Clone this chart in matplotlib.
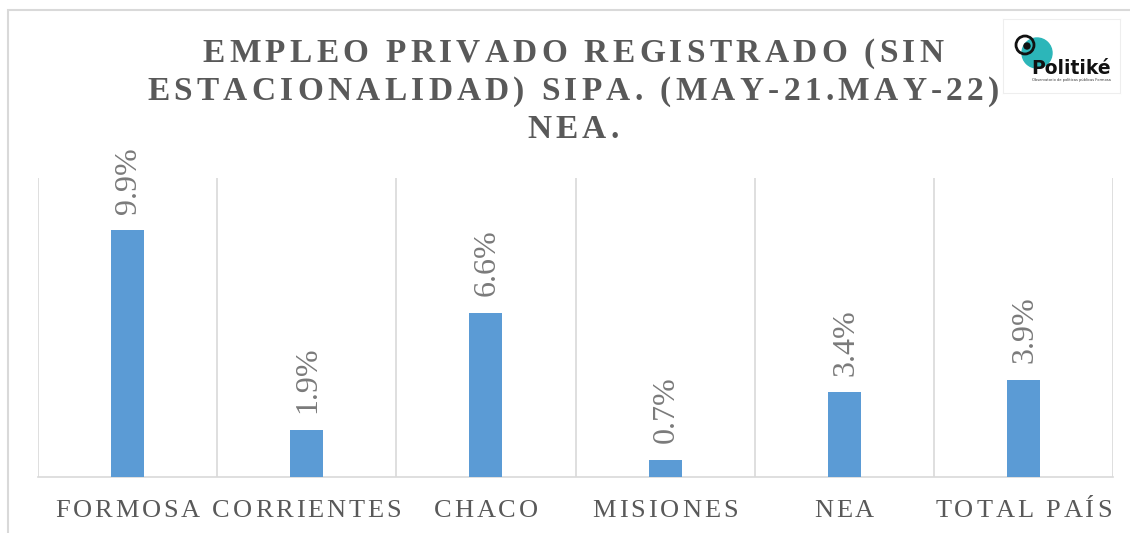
import numpy as np
import matplotlib
matplotlib.use("Agg")
import matplotlib.pyplot as plt
from matplotlib.patches import Rectangle, Circle
from matplotlib.transforms import IdentityTransform
from matplotlib.font_manager import FontProperties, findfont, get_font

categories = ["FORMOSA", "CORRIENTES", "CHACO", "MISIONES", "NEA", "TOTAL PAÍS"]
values = [9.9, 1.9, 6.6, 0.7, 3.4, 3.9]
title_lines = ["EMPLEO PRIVADO REGISTRADO (SIN",
               "ESTACIONALIDAD) SIPA. (MAY-21.MAY-22)",
               "NEA."]

W, H, DPI = 1130, 533, 100
BAR = "#5B9BD5"
GRID = "#d9d9d9"
TXT = "#595959"
SERIF = "Liberation Serif"


def advances(s, prop):
    # horizontal advance of each char, in pixels
    font = get_font(findfont(prop))
    font.set_size(prop.get_size_in_points(), DPI)
    return [font.load_char(ord(ch)).linearHoriAdvance / 65536 for ch in s]


def tracked_text(fig, cx, y, s, size, track, weight="normal", color=TXT):
    # draw s centred at cx (pixels), baseline y, with extra letter spacing
    prop = FontProperties(family=SERIF, size=size, weight=weight)
    adv = advances(s, prop)
    total = sum(adv) + track * (len(s) - 1)
    x = cx - total / 2
    for ch, a in zip(s, adv):
        fig.text(x, y, ch, fontproperties=prop, color=color,
                 ha="left", va="baseline", transform=IdentityTransform())
        x += a + track


fig = plt.figure(figsize=(W / DPI, H / DPI), dpi=DPI)
fig.patch.set_facecolor("white")

# outer frame (runs off the right and bottom edges)
fig.patches.append(Rectangle((8 / W, -0.1), 1.2, (H - 10) / H + 0.1,
                             transform=fig.transFigure, fill=False,
                             ec=GRID, lw=1.5))

ax = fig.add_axes([38 / W, (H - 477) / H, (1113 - 38) / W, (477 - 178) / H])
x = np.arange(len(categories))
ax.bar(x, values, width=0.185, color=BAR, zorder=3)
ax.set_xlim(-0.5, len(categories) - 0.5)
ax.set_ylim(0, 12)
ax.set_yticks([])
ax.set_xticks(x)
ax.set_xticklabels([])
ax.tick_params(axis="x", length=0)
ax.set_xticks(np.arange(-0.5, len(categories)), minor=True)
ax.tick_params(axis="x", which="minor", length=0)
ax.grid(axis="x", which="minor", color=GRID, lw=1.2)
for side in ["top", "left", "right"]:
    ax.spines[side].set_visible(False)
ax.spines["bottom"].set_color(GRID)
ax.spines["bottom"].set_linewidth(1.2)

for xi, v in zip(x, values):
    ax.annotate(f"{v:.1f}%", xy=(xi, v), xytext=(1, 12), textcoords="offset points",
                rotation=90, ha="center", va="bottom", fontsize=23,
                family=SERIF, color="#7a7a7a")

# category labels with letter spacing
for xi, cat in zip(x, categories):
    cx = ax.transData.transform((xi, 0))[0]
    tracked_text(fig, cx, H - 517, cat, 19, 2.9)

# title
for line, base in zip(title_lines, [62, 100, 138]):
    tracked_text(fig, 573, H - base, line, 24, 4.3, weight="bold")

# logo
lg = fig.add_axes([1003 / W, (H - 93) / H, 117 / W, 74 / H])
lg.set_xlim(1003, 1120)
lg.set_ylim(93, 19)
lg.set_xticks([])
lg.set_yticks([])
for sp in lg.spines.values():
    sp.set_color("#eeeeee")
lg.add_patch(Circle((1037, 53), 15, color="#2cb6b9"))
lg.add_patch(Circle((1025, 45), 9, fill=False, ec="#111111", lw=2.0))
lg.add_patch(Circle((1027, 46), 3, color="#111111"))
lg.text(1071, 69, "Politiké", ha="center", va="center", fontsize=13.5,
        fontweight="bold", family="DejaVu Sans", color="#111111")
lg.text(1071, 80, "Observatorio de políticas públicas Formosa", ha="center",
        va="center", fontsize=2.6, family="DejaVu Sans", color="#333333")

fig.savefig("out.png", dpi=DPI)
